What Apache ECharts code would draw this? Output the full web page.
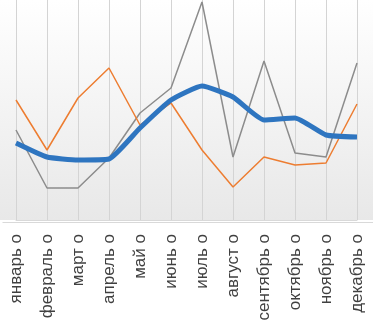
<!DOCTYPE html>
<html><head><meta charset="utf-8">
<script src="https://cdn.jsdelivr.net/npm/echarts@6/dist/echarts.min.js"></script>
<style>html,body{margin:0;padding:0;background:#fff}#c{width:373px;height:327px}</style>
</head><body><div id="c"></div>
<script>
var categories = ['январь о','февраль о','март о','апрель о','май о','июнь о','июль о','август о','сентябрь о','октябрь о','ноябрь о','декабрь о'];
var graySeries = [90, 32, 32, 62, 107, 132, 218, 63, 159, 67, 63, 157];
var orangeSeries = [120, 70, 122, 152, 95, 117, 70, 33, 63, 55, 57, 116];
var blueSeries = [77, 63, 60, 61, 92, 120, 134, 123, 100, 102, 85, 83];

var chart = echarts.init(document.getElementById('c'), null, {renderer:'canvas'});
chart.setOption({
  animation: false,
  graphic: [
    {type:'rect', left:0, top:0, z:-10, silent:true, shape:{width:373, height:220},
      style:{fill: new echarts.graphic.LinearGradient(0,0,0,1,[{offset:0,color:'#ffffff'},{offset:1,color:'#e8e8e8'}])}},
    {type:'line', left:0, top:220, z:-5, silent:true, shape:{x1:0,y1:0,x2:373,y2:0}, style:{stroke:'#d9d9d9', lineWidth:1}}
  ],
  grid: {left: 16, right: 16, top: 0, bottom: 107},
  xAxis: {type:'category', data: categories, boundaryGap: false,
    axisLine:{lineStyle:{color:'#d9d9d9', width:1}},
    axisTick:{show:false},
    splitLine:{show:true, lineStyle:{color:'#d4d4d4', width:1}},
    axisLabel:{rotate:90, margin:14, color:'#404040', fontSize:17, fontFamily:'Liberation Sans, Arial, sans-serif', interval:0}},
  yAxis: {type:'value', min:0, max:220, show:false, splitLine:{show:false}},
  series: [
    {type:'line', data: graySeries, symbol:'none', lineStyle:{color:'#8c8c8c', width:1.5}, z:2},
    {type:'line', data: orangeSeries, symbol:'none', lineStyle:{color:'#ed7d31', width:1.5}, z:3},
    {type:'line', data: blueSeries, symbol:'none', smooth:0.15, lineStyle:{color:'#2e75c0', width:5}, z:4}
  ]
});
</script></body></html>
